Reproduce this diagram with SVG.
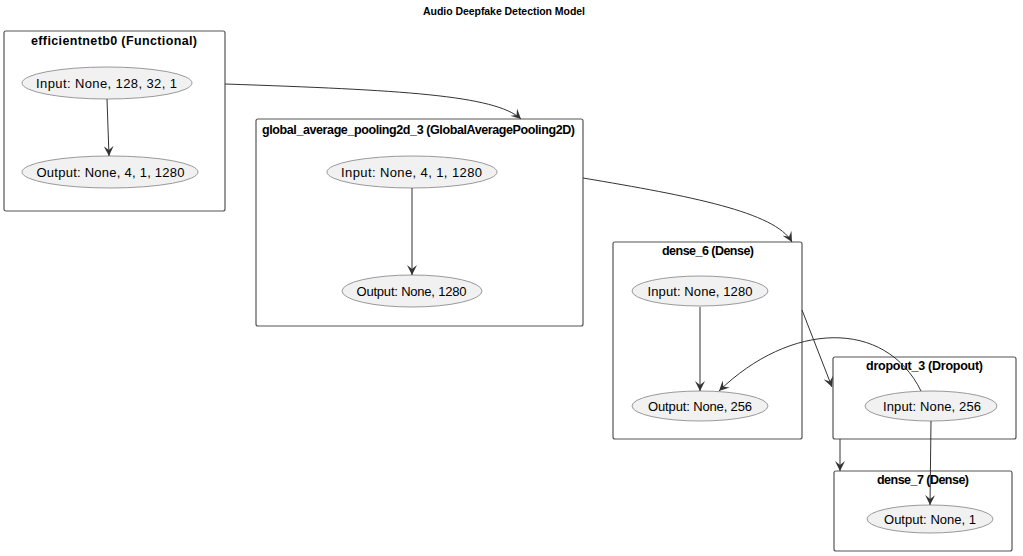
<svg xmlns="http://www.w3.org/2000/svg" width="1023" height="556" viewBox="0 0 1023 556">
<style>
text{font-family:"Liberation Sans",Arial,sans-serif;fill:#000}
.t{font-size:12.5px;font-weight:bold;text-anchor:middle}
.e{font-size:13px;text-anchor:middle}
.box{fill:#fff;stroke:#555;stroke-width:1.2}
.el{fill:#f1f1f1;stroke:#999;stroke-width:1}
.c{fill:none;stroke:#333;stroke-width:1}
</style>
<defs>
<marker id="a" viewBox="0 0 10 10" refX="10" refY="5" markerWidth="10" markerHeight="10" markerUnits="userSpaceOnUse" orient="auto">
<path d="M0,0 L10,5 L0,10 L4,5 z" fill="#333"/>
</marker>
</defs>
<rect width="1023" height="556" fill="#fff"/>
<text x="504" y="15" textLength="162" style="font-size:10.5px;font-weight:bold;text-anchor:middle">Audio Deepfake Detection Model</text>

<g id="efficientnetb0">
<rect class="box" x="4" y="31" width="221" height="180" rx="2"/>
<text class="t" x="114" y="45" textLength="166">efficientnetb0 (Functional)</text>
<ellipse class="el" cx="107" cy="83" rx="85" ry="16"/>
<text class="e" x="106.5" y="87.5" textLength="141">Input: None, 128, 32, 1</text>
<ellipse class="el" cx="110" cy="172" rx="88" ry="16"/>
<text class="e" x="110.5" y="176.5" textLength="148">Output: None, 4, 1, 1280</text>
</g>

<g id="global_average_pooling2d_3">
<rect class="box" x="256" y="119" width="327" height="207" rx="2"/>
<text class="t" x="418.5" y="134" textLength="313">global_average_pooling2d_3 (GlobalAveragePooling2D)</text>
<ellipse class="el" cx="412" cy="172" rx="85" ry="16"/>
<text class="e" x="411.5" y="176.5" textLength="141">Input: None, 4, 1, 1280</text>
<ellipse class="el" cx="412" cy="291" rx="70" ry="16"/>
<text class="e" x="411.5" y="295.5" textLength="110">Output: None, 1280</text>
</g>

<g id="dense_6">
<rect class="box" x="613" y="242" width="189" height="197" rx="2"/>
<text class="t" x="708" y="255" textLength="92">dense_6 (Dense)</text>
<ellipse class="el" cx="700" cy="291" rx="68" ry="15"/>
<text class="e" x="700" y="295.5" textLength="105">Input: None, 1280</text>
<ellipse class="el" cx="700" cy="406" rx="68" ry="15"/>
<text class="e" x="700" y="410.5" textLength="104">Output: None, 256</text>
</g>

<g id="dropout_3">
<rect class="box" x="833" y="357" width="183" height="82" rx="2"/>
<text class="t" x="924.5" y="370" textLength="117">dropout_3 (Dropout)</text>
<ellipse class="el" cx="931" cy="406" rx="66" ry="15"/>
<text class="e" x="932" y="410.5" textLength="98">Input: None, 256</text>
</g>

<g id="dense_7">
<rect class="box" x="834" y="471" width="178" height="80" rx="2"/>
<text class="t" x="923" y="484" textLength="92">dense_7 (Dense)</text>
<ellipse class="el" cx="930" cy="519" rx="63" ry="14"/>
<text class="e" x="930" y="523.5" textLength="92">Output: None, 1</text>
</g>

<g id="connectors">
<path class="c" marker-end="url(#a)" d="M107,99 L109,156"/>
<path class="c" marker-end="url(#a)" d="M412,188 L412,275"/>
<path class="c" marker-end="url(#a)" d="M700,307 L700,391"/>
<path class="c" marker-end="url(#a)" d="M225,84 C400,90 495,95 521,119"/>
<path class="c" marker-end="url(#a)" d="M583,178 C690,196 775,212 792,242"/>
<path class="c" marker-end="url(#a)" d="M802,310 L832,387"/>
<path class="c" marker-end="url(#a)" d="M921,391 C885,318 790,322 719,391"/>
<path class="c" marker-end="url(#a)" d="M840,439 L840,471"/>
<path class="c" marker-end="url(#a)" d="M931,421 L930,505"/>
</g>
</svg>
